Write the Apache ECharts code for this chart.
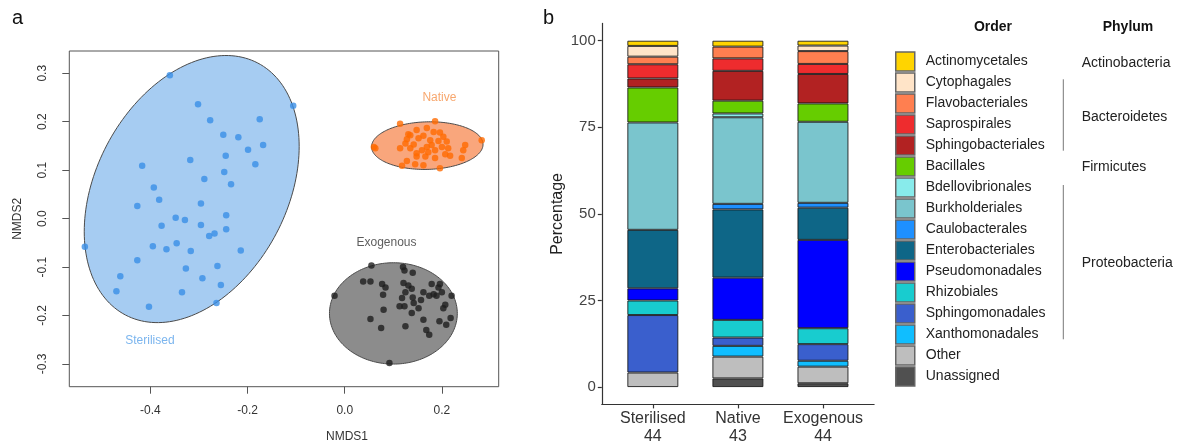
<!DOCTYPE html>
<html><head><meta charset="utf-8">
<script src="https://cdn.jsdelivr.net/npm/echarts@6/dist/echarts.min.js"></script>
<style>html,body{margin:0;padding:0;background:#fff}#c{width:1181px;height:446px}</style>
</head><body><div id="c"></div>
<script>
// ---------- Panel a: NMDS ----------
var nmdsXTicks = [-0.4, -0.2, 0.0, 0.2];
var nmdsYTicks = [-0.3, -0.2, -0.1, 0.0, 0.1, 0.2, 0.3];
var groupNames = ['Sterilised', 'Native', 'Exogenous'];
var sterilisedPts = [[-0.360,0.296],[-0.302,0.236],[-0.277,0.203],[-0.175,0.205],[-0.106,0.233],[-0.250,0.173],[-0.219,0.168],[-0.168,0.152],[-0.199,0.142],[-0.245,0.130],[-0.318,0.121],[-0.184,0.112],[-0.417,0.109],[-0.248,0.096],[-0.289,0.082],[-0.234,0.071],[-0.393,0.064],[-0.382,0.039],[-0.296,0.031],[-0.427,0.026],[-0.244,0.007],[-0.348,0.002],[-0.329,-0.003],[-0.377,-0.015],[-0.296,-0.013],[-0.244,-0.022],[-0.279,-0.036],[-0.268,-0.031],[-0.535,-0.058],[-0.395,-0.057],[-0.367,-0.063],[-0.346,-0.051],[-0.317,-0.067],[-0.214,-0.066],[-0.427,-0.086],[-0.327,-0.103],[-0.262,-0.098],[-0.462,-0.119],[-0.293,-0.123],[-0.255,-0.137],[-0.470,-0.150],[-0.335,-0.152],[-0.264,-0.174],[-0.403,-0.182]];
var nativePts = [[0.114,0.196],[0.186,0.201],[0.282,0.162],[0.060,0.148],[0.148,0.183],[0.169,0.187],[0.131,0.174],[0.183,0.179],[0.196,0.178],[0.203,0.169],[0.162,0.171],[0.128,0.164],[0.142,0.153],[0.125,0.155],[0.193,0.160],[0.210,0.159],[0.179,0.152],[0.200,0.148],[0.169,0.148],[0.114,0.145],[0.135,0.145],[0.248,0.152],[0.244,0.141],[0.159,0.141],[0.148,0.135],[0.172,0.137],[0.186,0.141],[0.207,0.133],[0.217,0.130],[0.166,0.128],[0.148,0.128],[0.186,0.125],[0.241,0.125],[0.128,0.119],[0.145,0.112],[0.162,0.110],[0.118,0.109],[0.196,0.104],[0.063,0.145],[0.152,0.166],[0.176,0.162],[0.213,0.145],[0.135,0.172]];
var exogenousPts = [[0.055,-0.097],[0.120,-0.100],[0.123,-0.107],[0.140,-0.112],[0.038,-0.130],[0.053,-0.130],[0.077,-0.135],[0.084,-0.142],[0.079,-0.157],[0.121,-0.133],[0.131,-0.138],[0.138,-0.145],[0.125,-0.152],[0.179,-0.135],[0.193,-0.142],[0.162,-0.152],[0.183,-0.156],[0.200,-0.152],[0.220,-0.159],[-0.021,-0.159],[0.118,-0.164],[0.140,-0.163],[0.157,-0.168],[0.174,-0.159],[0.207,-0.178],[0.203,-0.185],[0.113,-0.181],[0.123,-0.181],[0.152,-0.185],[0.080,-0.188],[0.138,-0.195],[0.053,-0.207],[0.162,-0.209],[0.195,-0.212],[0.218,-0.205],[0.209,-0.219],[0.075,-0.226],[0.125,-0.222],[0.168,-0.230],[0.174,-0.240],[0.092,-0.298],[0.189,-0.159],[0.142,-0.174],[0.196,-0.135]];
// ellipse: [centre x, centre y, semi-axis a, semi-axis b, angle in degrees]
var sterilisedEllipse = [-0.315, 0.061, 0.2936, 0.1969, 62.4];
var nativeEllipse = [0.170, 0.1507, 0.1148, 0.0491, 1.5];
var exogenousEllipse = [0.1002, -0.1957, 0.1316, 0.1046, 0];
// group label anchors
var groupLabelPos = [[-0.401, -0.251], [0.195, 0.249], [0.086, -0.049]];

// ---------- Panel b: stacked bars ----------
var sites = ['Sterilised', 'Native', 'Exogenous'];
var siteN = ['44', '43', '44'];
var pctTicks = [0, 25, 50, 75, 100];
var orders = ['Actinomycetales','Cytophagales','Flavobacteriales','Saprospirales','Sphingobacteriales','Bacillales','Bdellovibrionales','Burkholderiales','Caulobacterales','Enterobacteriales','Pseudomonadales','Rhizobiales','Sphingomonadales','Xanthomonadales','Other','Unassigned'];
var Actinomycetales   = [1.5, 1.7, 1.4];
var Cytophagales      = [3.1, 0, 1.6];
var Flavobacteriales  = [2.2, 3.4, 3.7];
var Saprospirales     = [4.1, 3.6, 2.9];
var Sphingobacteriales= [2.6, 8.6, 8.5];
var Bacillales        = [10.1, 3.7, 5.3];
var Bdellovibrionales = [0, 1.1, 0];
var Burkholderiales   = [31.0, 25.0, 23.4];
var Caulobacterales   = [0, 1.6, 1.4];
var Enterobacteriales = [16.9, 19.7, 9.3];
var Pseudomonadales   = [3.5, 12.2, 25.5];
var Rhizobiales       = [4.2, 5.1, 4.6];
var Sphingomonadales  = [16.6, 2.4, 4.8];
var Xanthomonadales   = [0, 3.1, 1.7];
var Other             = [4.2, 6.3, 4.8];
var Unassigned        = [0, 2.5, 1.1];
var phyla = ['Actinobacteria', 'Bacteroidetes', 'Firmicutes', 'Proteobacteria'];

var orderValues = {Actinomycetales:Actinomycetales,Cytophagales:Cytophagales,Flavobacteriales:Flavobacteriales,Saprospirales:Saprospirales,Sphingobacteriales:Sphingobacteriales,Bacillales:Bacillales,Bdellovibrionales:Bdellovibrionales,Burkholderiales:Burkholderiales,Caulobacterales:Caulobacterales,Enterobacteriales:Enterobacteriales,Pseudomonadales:Pseudomonadales,Rhizobiales:Rhizobiales,Sphingomonadales:Sphingomonadales,Xanthomonadales:Xanthomonadales,Other:Other,Unassigned:Unassigned};
var orderColors = {Actinomycetales:'#FFD400',Cytophagales:'#FFE4C8',Flavobacteriales:'#FF7F50',Saprospirales:'#EE2C2E',Sphingobacteriales:'#B22222',Bacillales:'#66CD00',Bdellovibrionales:'#88EBEB',Burkholderiales:'#7AC5CD',Caulobacterales:'#1E90FF',Enterobacteriales:'#0E6687',Pseudomonadales:'#0000FF',Rhizobiales:'#18CCCF',Sphingomonadales:'#3A5FCD',Xanthomonadales:'#10BEFF',Other:'#BEBEBE',Unassigned:'#505050'};

var FONT = '"Liberation Sans", Arial, Helvetica, sans-serif';

function ellipseSeries(name, params, fill) {
  return {
    type: 'custom', name: name, xAxisIndex: 0, yAxisIndex: 0, z: 1, silent: true,
    data: [params],
    renderItem: function (p, api) {
      var cx = api.value(0), cy = api.value(1), a = api.value(2), b = api.value(3), ang = api.value(4) * Math.PI / 180;
      var pts = [];
      for (var i = 0; i < 180; i++) {
        var t = i / 180 * 2 * Math.PI;
        var x = cx + a * Math.cos(ang) * Math.cos(t) - b * Math.sin(ang) * Math.sin(t);
        var y = cy + a * Math.sin(ang) * Math.cos(t) + b * Math.cos(ang) * Math.sin(t);
        pts.push(api.coord([x, y]));
      }
      return { type: 'polygon', shape: { points: pts }, style: { fill: fill, stroke: '#4a4a4a', lineWidth: 1 } };
    }
  };
}
function pointSeries(name, pts, color) {
  return { type: 'scatter', name: name, xAxisIndex: 0, yAxisIndex: 0, z: 3, silent: true,
    symbolSize: 6.5, itemStyle: { color: color }, data: pts };
}

var labelColors = ['#5AA2EA', '#F5914A', '#333333'];
var series = [
  ellipseSeries('Sterilised ellipse', sterilisedEllipse, '#A6CCF2'),
  ellipseSeries('Native ellipse', nativeEllipse, '#F9A67C'),
  ellipseSeries('Exogenous ellipse', exogenousEllipse, '#8C8C8C'),
  pointSeries('Sterilised pts', sterilisedPts, '#3A8EE6'),
  pointSeries('Native pts', nativePts, '#FF6A00'),
  pointSeries('Exogenous pts', exogenousPts, '#1E1E1E'),
  { type: 'scatter', name: 'group labels', xAxisIndex: 0, yAxisIndex: 0, z: 4, silent: true, symbolSize: 0,
    data: groupLabelPos.map(function (p, i) { return { value: p, name: groupNames[i], label: { color: labelColors[i] } }; }),
    label: { show: true, position: 'inside', fontFamily: FONT, fontSize: 12,
      formatter: function (p) { return p.name; } }
  }
];

// stacked bars: bottom of stack is the last order
for (var k = orders.length - 1; k >= 0; k--) {
  var nm = orders[k];
  series.push({
    type: 'bar', name: nm, stack: 'total', xAxisIndex: 1, yAxisIndex: 1, barWidth: 51,
    itemStyle: { color: orderColors[nm], borderColor: 'rgba(20,20,20,0.85)', borderWidth: 1 },
    emphasis: { disabled: true },
    data: orderValues[nm].map(function (v) { return v === 0 ? '-' : v; })
  });
}

var option = {
  animation: false,
  textStyle: { fontFamily: FONT },
  grid: [
    { left: 69.3, right: 682.3, top: 51, bottom: 59.3, show: true, borderColor: '#555', borderWidth: 1, backgroundColor: 'transparent' },
    { left: 610.3, right: 315.5, top: 23.4, bottom: 41.6 },
    { left: 601.8, right: 306.9, top: 23.4, bottom: 41.6 }
  ],
  xAxis: [
    { type: 'value', gridIndex: 0, min: -0.567, max: 0.317, splitLine: { show: false }, axisLine: { show: false, onZero: false },
      axisTick: { show: true, length: 7, customValues: nmdsXTicks, lineStyle: { color: '#555' } },
      axisLabel: { customValues: nmdsXTicks, formatter: function (v) { return v.toFixed(1); }, fontSize: 12, color: '#333', margin: 18 } },
    { type: 'category', gridIndex: 1, data: sites, axisLine: { show: false }, axisTick: { show: false }, axisLabel: { show: false } },
    { type: 'value', gridIndex: 2, min: 0.4, max: 3.6, splitLine: { show: false },
      axisLine: { show: true, onZero: false, lineStyle: { color: '#333', width: 1.2 } },
      axisTick: { show: true, length: 4, customValues: [1, 2, 3], lineStyle: { color: '#333', width: 1.2 } },
      axisLabel: { customValues: [1, 2, 3], formatter: function (v) { var i = Math.round(v) - 1; return sites[i] + '\n' + siteN[i]; },
        fontSize: 16, lineHeight: 18, color: '#333', margin: 5 } }
  ],
  yAxis: [
    { type: 'value', gridIndex: 0, min: -0.347, max: 0.346, splitLine: { show: false }, axisLine: { show: false, onZero: false },
      axisTick: { show: true, length: 7, customValues: nmdsYTicks, lineStyle: { color: '#555' } },
      axisLabel: { customValues: nmdsYTicks, rotate: 90, formatter: function (v) { return v.toFixed(1); }, fontSize: 12, color: '#333', margin: 21 },
      name: 'NMDS2', nameLocation: 'middle', nameRotate: 90, nameGap: 46, nameTextStyle: { fontSize: 12, color: '#333' } },
    { type: 'value', gridIndex: 1, min: -5, max: 105, show: false },
    { type: 'value', gridIndex: 2, min: -5, max: 105, splitLine: { show: false },
      axisLine: { show: true, onZero: false, lineStyle: { color: '#333', width: 1.2 } },
      axisTick: { show: true, length: 4, customValues: pctTicks, lineStyle: { color: '#333', width: 1.2 } },
      axisLabel: { customValues: pctTicks, fontSize: 15, color: '#444', margin: 6 },
      name: 'Percentage', nameLocation: 'middle', nameRotate: 90, nameGap: 36, nameTextStyle: { fontSize: 16, color: '#222' } }
  ],
  legend: {
    data: orders, orient: 'vertical', left: 895, top: 51, itemWidth: 19, itemHeight: 19, itemGap: 0,
    icon: 'rect', selectedMode: false, padding: 0,
    itemStyle: { borderColor: '#666', borderWidth: 1.5 },
    textStyle: { fontSize: 14, lineHeight: 17, color: '#222', fontFamily: FONT, padding: [4, 0, 0, 6] }
  },
  graphic: [
    { type: 'text', left: 12, top: 8, style: { text: 'a', fontSize: 20, fill: '#111', fontFamily: FONT } },
    { type: 'text', left: 543, top: 8, style: { text: 'b', fontSize: 20, fill: '#111', fontFamily: FONT } },
    { type: 'text', x: 347, y: 437, style: { text: 'NMDS1', fontSize: 12, fill: '#333', fontFamily: FONT, align: 'center', verticalAlign: 'middle' } },
    { type: 'text', x: 993, y: 27, style: { text: 'Order', fontSize: 14, fontWeight: 'bold', fill: '#111', fontFamily: FONT, align: 'center', verticalAlign: 'middle' } },
    { type: 'text', x: 1128, y: 27, style: { text: 'Phylum', fontSize: 14, fontWeight: 'bold', fill: '#111', fontFamily: FONT, align: 'center', verticalAlign: 'middle' } },
    { type: 'text', x: 1081.7, y: 62.7, style: { text: phyla[0], fontSize: 14, fill: '#222', fontFamily: FONT, verticalAlign: 'middle' } },
    { type: 'text', x: 1081.7, y: 116.7, style: { text: phyla[1], fontSize: 14, fill: '#222', fontFamily: FONT, verticalAlign: 'middle' } },
    { type: 'text', x: 1081.7, y: 167, style: { text: phyla[2], fontSize: 14, fill: '#222', fontFamily: FONT, verticalAlign: 'middle' } },
    { type: 'text', x: 1081.7, y: 263.3, style: { text: phyla[3], fontSize: 14, fill: '#222', fontFamily: FONT, verticalAlign: 'middle' } },
    { type: 'line', shape: { x1: 1063.3, y1: 79.3, x2: 1063.3, y2: 150.7 }, style: { stroke: '#777', lineWidth: 1 } },
    { type: 'line', shape: { x1: 1063.3, y1: 185, x2: 1063.3, y2: 339.3 }, style: { stroke: '#777', lineWidth: 1 } }
  ],
  series: series
};
var chart = echarts.init(document.getElementById('c'), null, { renderer: 'canvas' });
chart.setOption(option);
</script>
</body></html>
